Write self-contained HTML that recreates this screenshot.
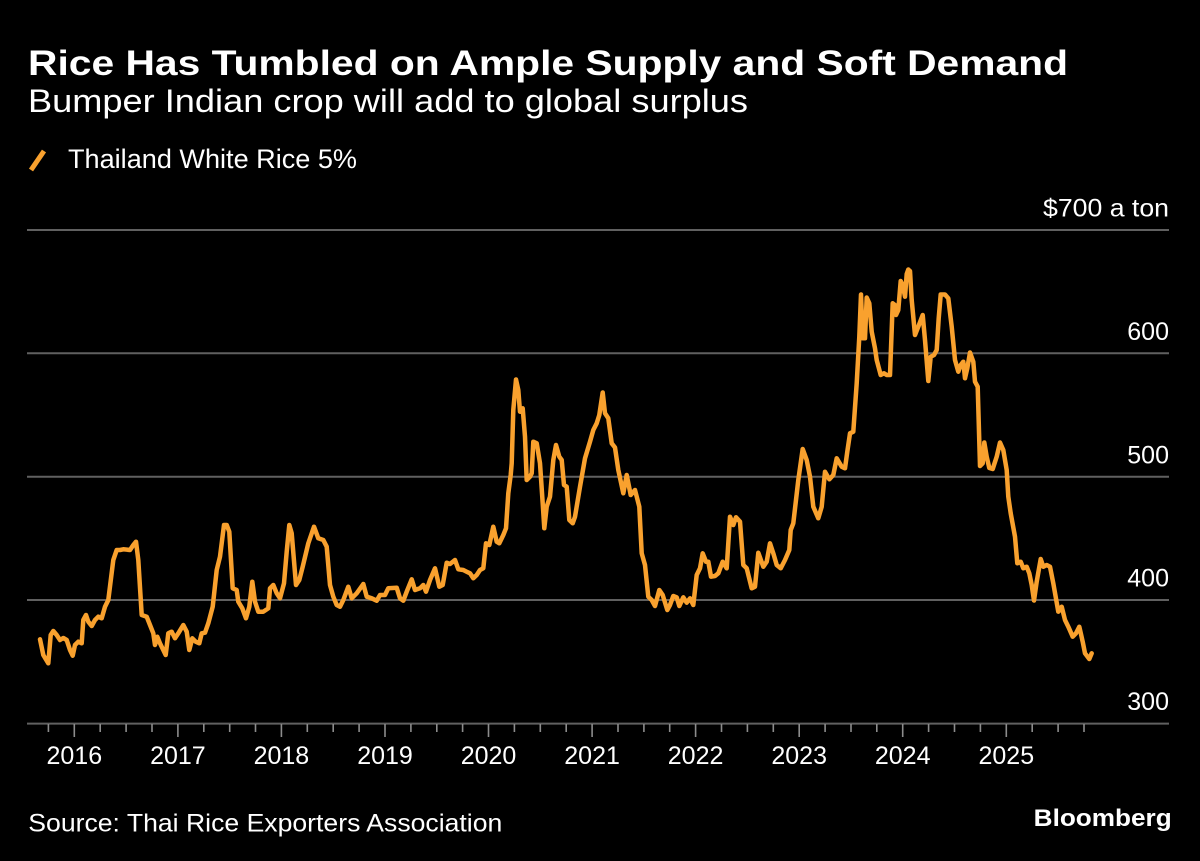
<!DOCTYPE html>
<html>
<head>
<meta charset="utf-8">
<style>
  html, body { margin: 0; padding: 0; background: #000; }
  body { width: 1200px; height: 861px; overflow: hidden; }
  svg { display: block; }
  text { font-family: "Liberation Sans", "DejaVu Sans", sans-serif; fill: #ffffff; }
</style>
</head>
<body>
<svg width="1200" height="861" viewBox="0 0 1200 861" xmlns="http://www.w3.org/2000/svg">
  <rect x="0" y="0" width="1200" height="861" fill="#000"/>

  <!-- Title / subtitle -->
  <text x="28" y="75" font-size="35" font-weight="bold" textLength="1040" lengthAdjust="spacingAndGlyphs">Rice Has Tumbled on Ample Supply and Soft Demand</text>
  <text x="28" y="112" font-size="32" textLength="720" lengthAdjust="spacingAndGlyphs">Bumper Indian crop will add to global surplus</text>

  <!-- Legend -->
  <line x1="31" y1="170" x2="44" y2="151" stroke="#f9a12e" stroke-width="5"/>
  <text x="68" y="168" font-size="27" textLength="289" lengthAdjust="spacingAndGlyphs">Thailand White Rice 5%</text>

  <!-- Gridlines -->
  <g stroke="#606060" stroke-width="2">
    <line x1="27" y1="230" x2="1169" y2="230"/>
    <line x1="27" y1="353.3" x2="1169" y2="353.3"/>
    <line x1="27" y1="476.7" x2="1169" y2="476.7"/>
    <line x1="27" y1="600" x2="1169" y2="600"/>
    <line x1="27" y1="723.6" x2="1169" y2="723.6"/>
  </g>

  <!-- Y labels -->
  <g font-size="25" text-anchor="end">
    <text x="1169" y="216.7" textLength="126" lengthAdjust="spacingAndGlyphs">$700 a ton</text>
    <text x="1169" y="340">600</text>
    <text x="1169" y="463.3">500</text>
    <text x="1169" y="586.7">400</text>
    <text x="1169" y="710">300</text>
  </g>

  <!-- X ticks -->
  <g stroke="#8c8c8c" stroke-width="1.6">
    <line x1="74.3" y1="724" x2="74.3" y2="737"/>
    <line x1="177.9" y1="724" x2="177.9" y2="737"/>
    <line x1="281.4" y1="724" x2="281.4" y2="737"/>
    <line x1="385" y1="724" x2="385" y2="737"/>
    <line x1="488.5" y1="724" x2="488.5" y2="737"/>
    <line x1="592.1" y1="724" x2="592.1" y2="737"/>
    <line x1="695.6" y1="724" x2="695.6" y2="737"/>
    <line x1="799.2" y1="724" x2="799.2" y2="737"/>
    <line x1="902.7" y1="724" x2="902.7" y2="737"/>
    <line x1="1006.3" y1="724" x2="1006.3" y2="737"/>
    <line x1="48.4" y1="724" x2="48.4" y2="732"/>
    <line x1="100.2" y1="724" x2="100.2" y2="732"/>
    <line x1="126.1" y1="724" x2="126.1" y2="732"/>
    <line x1="152" y1="724" x2="152" y2="732"/>
    <line x1="203.8" y1="724" x2="203.8" y2="732"/>
    <line x1="229.7" y1="724" x2="229.7" y2="732"/>
    <line x1="255.5" y1="724" x2="255.5" y2="732"/>
    <line x1="307.3" y1="724" x2="307.3" y2="732"/>
    <line x1="333.2" y1="724" x2="333.2" y2="732"/>
    <line x1="359.1" y1="724" x2="359.1" y2="732"/>
    <line x1="410.9" y1="724" x2="410.9" y2="732"/>
    <line x1="436.8" y1="724" x2="436.8" y2="732"/>
    <line x1="462.6" y1="724" x2="462.6" y2="732"/>
    <line x1="514.4" y1="724" x2="514.4" y2="732"/>
    <line x1="540.3" y1="724" x2="540.3" y2="732"/>
    <line x1="566.2" y1="724" x2="566.2" y2="732"/>
    <line x1="618" y1="724" x2="618" y2="732"/>
    <line x1="643.9" y1="724" x2="643.9" y2="732"/>
    <line x1="669.7" y1="724" x2="669.7" y2="732"/>
    <line x1="721.5" y1="724" x2="721.5" y2="732"/>
    <line x1="747.4" y1="724" x2="747.4" y2="732"/>
    <line x1="773.3" y1="724" x2="773.3" y2="732"/>
    <line x1="825.1" y1="724" x2="825.1" y2="732"/>
    <line x1="851" y1="724" x2="851" y2="732"/>
    <line x1="876.8" y1="724" x2="876.8" y2="732"/>
    <line x1="928.6" y1="724" x2="928.6" y2="732"/>
    <line x1="954.5" y1="724" x2="954.5" y2="732"/>
    <line x1="980.4" y1="724" x2="980.4" y2="732"/>
    <line x1="1032.2" y1="724" x2="1032.2" y2="732"/>
    <line x1="1058.1" y1="724" x2="1058.1" y2="732"/>
    <line x1="1084" y1="724" x2="1084" y2="732"/>
  </g>

  <!-- X labels -->
  <g font-size="25" text-anchor="middle">
    <text x="74.3" y="764">2016</text>
    <text x="177.9" y="764">2017</text>
    <text x="281.4" y="764">2018</text>
    <text x="385" y="764">2019</text>
    <text x="488.5" y="764">2020</text>
    <text x="592.1" y="764">2021</text>
    <text x="695.6" y="764">2022</text>
    <text x="799.2" y="764">2023</text>
    <text x="902.7" y="764">2024</text>
    <text x="1006.3" y="764">2025</text>
  </g>

  <!-- Series -->
  <polyline fill="none" stroke="#f9a12e" stroke-width="4.5" stroke-linejoin="round" stroke-linecap="round"
    points="40,639.3 43.3,655 48.3,663.3 50.7,635 53.3,631 56.7,635 60,640 63.3,638 66.7,640 70,650 72.7,655.7 75,645 78.3,641.7 81.7,643.3 83.3,620 86,615 88.3,621.7 91.7,626 95,620 98.3,616.7 101.7,618.3 105,606.7 108.3,600 113.3,560 116.7,550 120,550 123.3,549.3 130,550 133.3,545 136,541.7 138.3,560 141.7,615 146.7,616.7 150,625 153.3,633.3 155,645 157.3,636.7 160,643.3 165.7,655 168.3,633.3 171.7,631.7 175,638.3 178.3,633.3 183.3,625 186.7,631.7 189.3,650 192.3,638.3 195.7,641.7 199.3,643.3 201.7,633.3 205,632.7 208.3,623.3 212.7,606.7 216.7,570 220,556.7 224,525 226.7,525 229.3,531.7 232.7,588.3 236.7,590 238.3,601.7 242.3,608.3 246,618.3 249.3,606.7 252.3,581.7 255,601.7 258.3,611.7 263.3,611.7 268.3,608.3 270,588.3 273.3,585 276.7,593.3 280,598.3 284,583.3 286.7,551.7 289.3,525 291.7,533.3 296,585 299.3,580 302.7,566.7 308.3,543.3 314,526.7 318.3,538.3 323.3,540 326.7,546.7 330,585 333.3,596.7 336.7,605 340,606.7 343.3,600 348.3,586.7 351.7,598.3 356.7,593.3 363.3,584 366.7,596.7 371.7,598.3 376.7,600.7 380,595 385,595 388.3,588.3 396.7,587.7 400,598.3 403.3,600.7 406.7,591.7 411.7,579.3 415,590 420,588.3 423.3,585 426,591.7 430,580 435,568.3 439.3,586.7 442.7,585 446.7,562.7 450,564 455,560 458.3,569.3 463.3,570 466.7,571.7 470,573.3 473.3,578.3 476.7,575 480,570 483.3,568.3 486,543.3 489.3,545 493.3,526.7 496.7,541.7 499.3,543.3 503.3,535 506,528.3 508.3,493.3 510.7,475 511.7,463.3 513.3,410 516,379.5 518.3,390 520,411.7 522.7,408.3 525,436.7 526.7,480 530,476.7 531.7,473.3 533.3,441.7 536.7,443.3 540,463.3 542.7,503.3 544.3,528.3 546.7,506.7 550,496.7 553.3,460 556,445 559.3,456.7 561.7,460 564,485 566.7,486.7 569.3,520 572.7,523.3 575,516.7 580,486.7 585,458.3 590,441.7 593.3,430 596.7,423.3 599.3,415 602.7,392.5 605,413.3 608.3,418.3 611.7,443.3 615,447.5 618.3,470 623.3,493.3 626.7,475 630.7,495 635,490 639.3,506.7 641.7,553.3 645,565 648.3,596.7 651.7,600 655,606 659.3,590 662.7,595 667.3,610 670,605 673.3,596 676.7,597.3 679.3,606 683.3,597.3 686.7,602.7 690,598.3 693.3,605 696.7,575 700,568.3 702.7,553.3 706,561.7 708.3,561.7 711,576.7 715,576 718.3,573.3 722.7,561.7 726.7,568.3 730,516.7 733.3,525 736,517.3 740,521.7 743.3,565 746.7,568.3 751.7,588.3 755,586.7 758.3,552.7 763.3,566.7 766.7,561.7 770,543.3 773.3,553.3 776.7,565 780.7,568.3 785,560 789.3,550 790.7,530 793.3,523.3 798.3,480 802.7,449 806.7,460 810,476.7 813.3,506.7 818.3,518.3 821.7,506.7 825,471.7 829.3,479.3 833.3,475 836.7,458.3 841.7,466.7 845,468.3 847.3,451.7 850,433.3 853.3,431.7 856.7,383.3 859.3,336.7 861,294.5 862.7,338.3 865,338.3 866.7,297.5 869.3,303.3 871.7,331.7 875,348.3 876.7,360 880.7,375 884,373.3 886.7,375 890,375 892.7,303.3 895,305 896,315 898.3,310 900.7,281 902.7,285 905,296.7 906.7,274 908.3,269.5 910,271 911.7,300 915,335 918.3,326.7 922.7,315 925,340 928.3,381 930.7,356.7 934,355 936.7,350 938.7,318.3 940.7,294.5 945,294.5 948.3,298.3 951.7,326.7 955,360 958.3,371.7 960.7,365 963.3,361.7 965,378.3 967.3,368.3 970,352.5 973.3,361.7 975,381.7 977.7,386.7 980,466 982.7,463.3 984.3,442.5 986.7,456.7 989.3,468 992.7,469 996.7,456.7 1000,442.5 1003.3,450 1006.7,470 1008.3,496.7 1010.7,513.3 1015,536.7 1017.3,563.3 1020.7,561.7 1023.3,568.3 1026.7,566.7 1029.3,573.3 1031.7,585 1034,600.5 1036.7,581.7 1040.7,559 1043.3,566.7 1046.7,565 1050,566.7 1053.3,583.3 1058.3,611.7 1061.7,606.7 1065,620 1068.3,626.7 1072.7,636.7 1076,633.3 1079.3,626.7 1082.7,641.7 1085,653.3 1089.3,659 1091.7,653.3"/>

  <!-- Footer -->
  <text x="28.3" y="831.7" font-size="25" textLength="474" lengthAdjust="spacingAndGlyphs">Source: Thai Rice Exporters Association</text>
  <text x="1171.7" y="826" font-size="24" font-weight="bold" text-anchor="end" textLength="138" lengthAdjust="spacingAndGlyphs">Bloomberg</text>
</svg>
</body>
</html>
